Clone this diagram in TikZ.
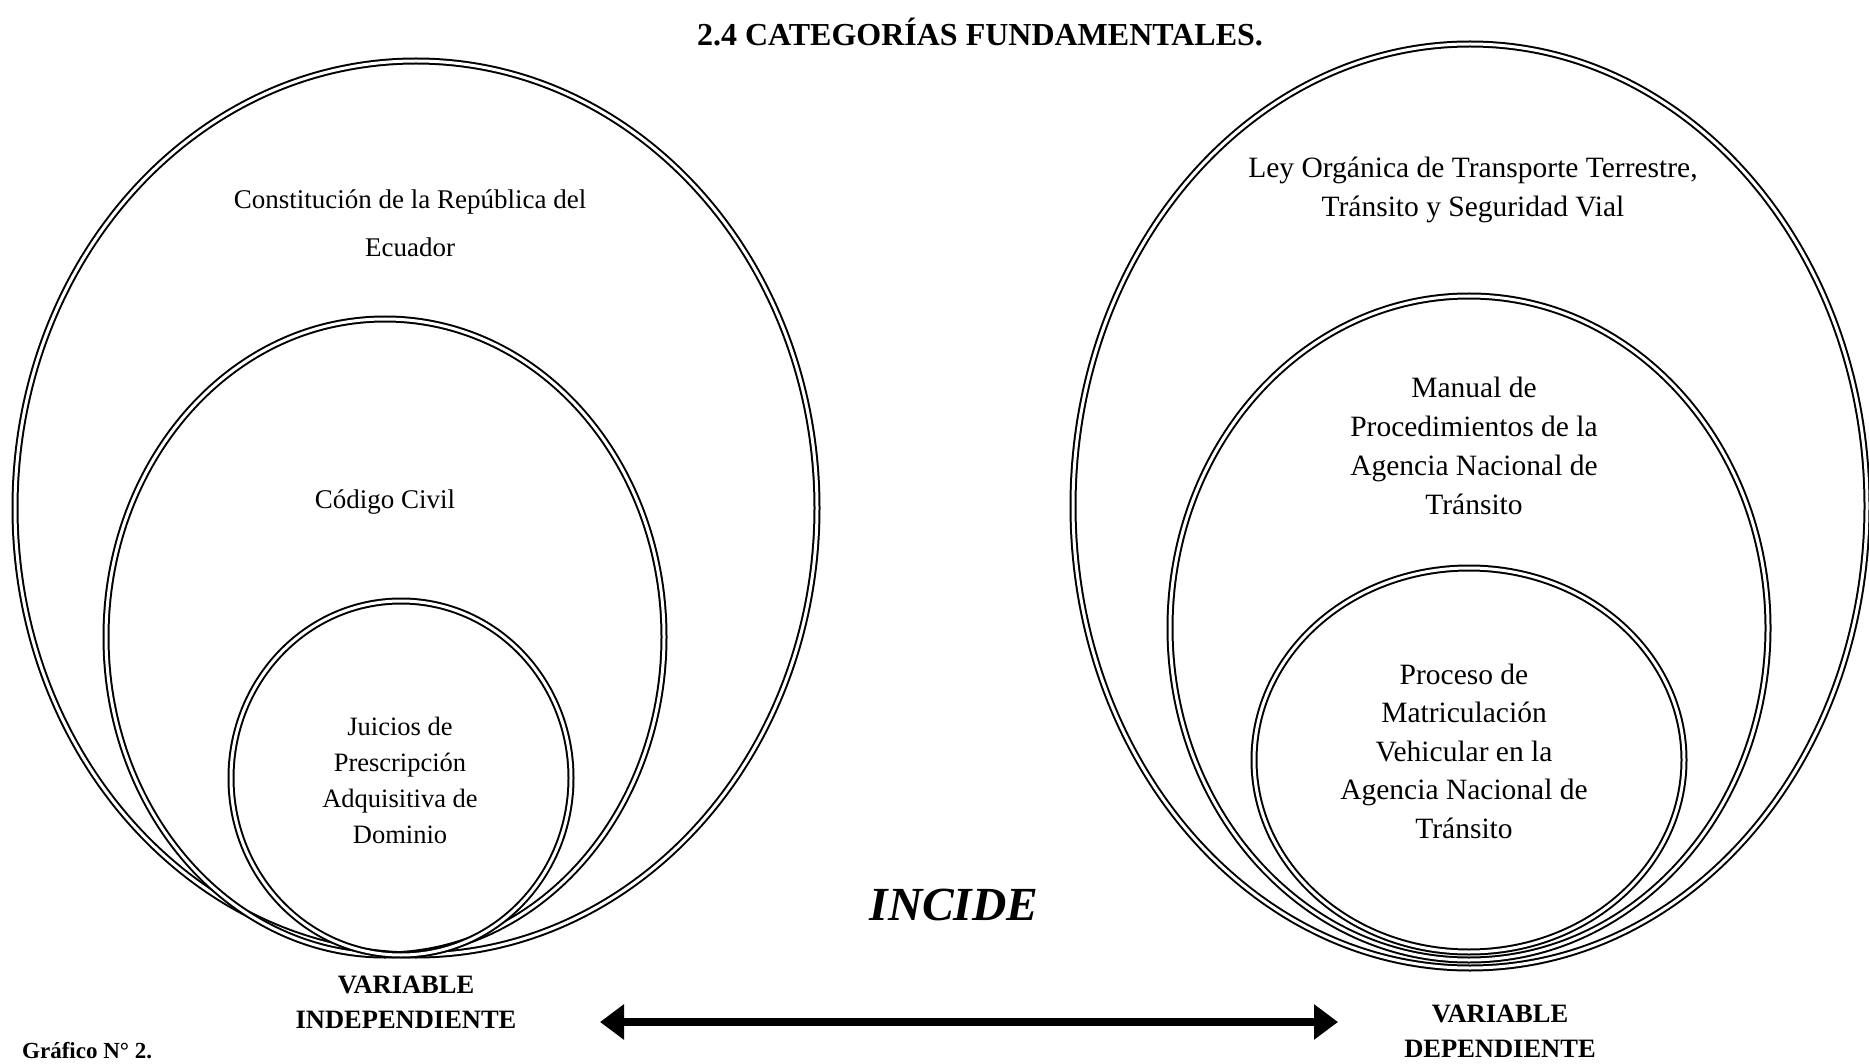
\documentclass[tikz,border=0pt]{standalone}
\usepackage{fontspec}
\setmainfont{Liberation Serif}
\usetikzlibrary{arrows.meta}
\begin{document}
\begin{tikzpicture}[x=1pt,y=-1pt,
  ring/.style={draw=black, double=white, double distance=3pt, line width=2pt},
  body/.style={align=center, inner sep=0pt, font=\fontsize{27}{39}\selectfont},
  rbody/.style={align=center, inner sep=0pt, font=\fontsize{29.5}{39}\selectfont},
  lab/.style={align=center, inner sep=0pt, font=\bfseries\fontsize{26.5}{35}\selectfont},
]
\useasboundingbox (0,0) rectangle (1869,1064);
% left rings
\draw[ring] (416,508) ellipse [x radius=401pt, y radius=447pt];
\draw[ring] (385,637) ellipse [x radius=279pt, y radius=318pt];
\draw[ring] (401,778) ellipse [x radius=170pt, y radius=177pt];
% right rings
\draw[ring] (1470,506) ellipse [x radius=397pt, y radius=462pt];
\draw[ring] (1469,628) ellipse [x radius=299pt, y radius=332pt];
\draw[ring] (1469,760) ellipse [x radius=215pt, y radius=192pt];
% title
\node[inner sep=0pt, font=\bfseries\fontsize{32}{38}\selectfont] (title) at (980,32) {2.4 CATEGORÍAS FUNDAMENTALES.};
% left texts
\node[body, font=\fontsize{27}{48}\selectfont] (const) at (410,223) {Constitución de la República del\\Ecuador};
\node[body] (civil) at (385,502) {Código Civil};
\node[body, font=\fontsize{26.5}{36}\selectfont] (juicios) at (400,780) {Juicios de\\Prescripción\\Adquisitiva de\\Dominio};
% right texts
\node[rbody] (ley) at (1473,190) {Ley Orgánica de Transporte Terrestre,\\Tránsito y Seguridad Vial};
\node[rbody] (manual) at (1474,446) {Manual de\\Procedimientos de la\\Agencia Nacional de\\Tránsito};
\node[rbody, font=\fontsize{29.5}{38.5}\selectfont] (proceso) at (1464,751) {Proceso de\\Matriculación\\Vehicular en la\\Agencia Nacional de\\Tránsito};
% labels
\node[inner sep=0pt, font=\bfseries\itshape\fontsize{47.5}{56}\selectfont] (incide) at (954,905) {INCIDE};
\node[lab] (vi) at (406,1002) {VARIABLE\\INDEPENDIENTE};
\node[lab] (vd) at (1500,1031) {VARIABLE\\DEPENDIENTE};
\node[inner sep=0pt, anchor=base west, font=\bfseries\fontsize{23}{28}\selectfont] (graf) at (22,1058) {Gráfico N° 2.};
% arrow
\coordinate (aL) at (600,1022);
\coordinate (aR) at (1338,1022);
\draw[line width=8pt, {Triangle[length=24pt,width=34pt]}-{Triangle[length=24pt,width=34pt]}] (aL) -- (aR);
\end{tikzpicture}
\end{document}
